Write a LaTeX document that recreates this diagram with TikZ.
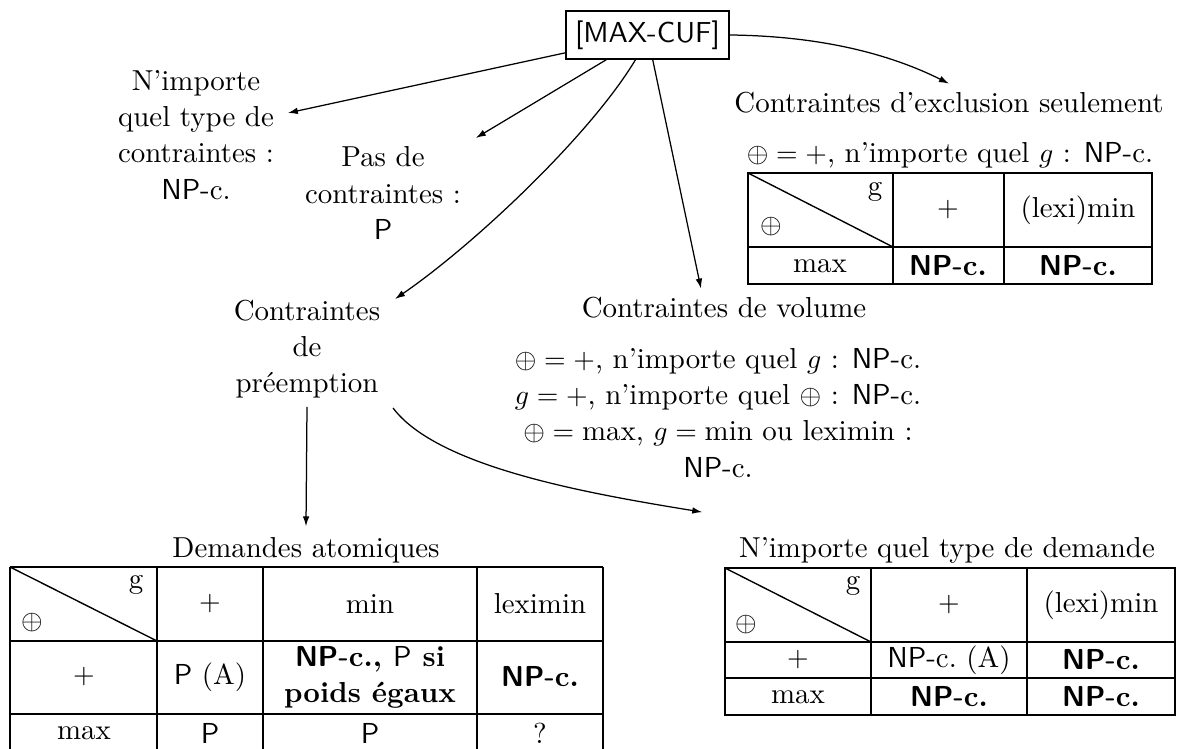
\documentclass[tikz,border=0pt]{standalone}
\usepackage{fontspec}
\usetikzlibrary{arrows.meta,calc}
\newcommand\npc{\textsf{NP-}c.}
\newcommand\npcb{\textbf{\textsf{NP-}c.}}
\begin{document}
\begin{tikzpicture}[x=0.36pt,y=-0.36pt,
  every node/.style={font=\fontsize{10.4}{13}\selectfont, inner sep=3pt},
  lbl/.style={align=center},
  rootbox/.style={draw, line width=0.5pt, font=\sffamily\fontsize{10.4}{12}\selectfont,
    inner sep=0pt, minimum width=58.7pt, minimum height=17.3pt},
  arr/.style={line width=0.45pt, -{Latex[length=3.6pt,width=2.4pt]}},
  grid/.style={line width=0.5pt},
  cell/.style={inner sep=0pt, align=center}]
\useasboundingbox (0,0) rectangle (1179,749);
\clip (0,0) rectangle (1179,749);

% ---- tree labels ----
\node[rootbox] (root) at (647.5,35) {[MAX-CUF]};
\node[lbl] (nimp) at (196,135) {N'importe\\quel type de\\contraintes :\\\npc};
\node[lbl] (pasde) at (383,193) {Pas de\\contraintes :\\\textsf{P}};
\node (excl) at (949,103) {Contraintes d'exclusion seulement};
\node (exclres) at (950,155) {$\oplus=+$, n'importe quel $g$ : \npc};
\node[lbl] (prem) at (307,349) {Contraintes\\de\\préemption};
\node (vol) at (724,308) {Contraintes de volume};
\node[lbl] (volres) at (718,413) {$\oplus=+$, n'importe quel $g$ : \npc\\
  $g=+$, n'importe quel $\oplus$ : \npc\\
  $\oplus=\max$, $g=\min$ ou leximin :\\\npc};
\node (atom) at (306,550) {Demandes atomiques};
\node (anydem) at (947,550) {N'importe quel type de demande};

% ---- connectors ----
\draw[arr] (root) -- ($(nimp.east)+(5,-22)$);
\draw[arr] (root) -- ($(pasde.north east)+(6,0)$);
\coordinate (c3a) at ($(root.south)+(-12,0)$);
\coordinate (c3b) at ($(prem.north east)+(6,8)$);
\draw[arr] (c3a) .. controls ($(c3a)+(-45,75)$) and ($(c3b)+(80,-55)$) .. (c3b);
\draw[arr] (root) -- ($(vol.north)+(-23,0)$);
\coordinate (c5a) at (root.east);
\coordinate (c5b) at (excl.north);
\draw[arr] (c5a) .. controls ($(c5a)+(90,1)$) and ($(c5b)+(-60,-30)$) .. (c5b);
\draw[arr] (prem.south) -- ($(atom.north)+(0,-2)$);
\coordinate (c6a) at ($(prem.south east)+(4,1)$);
\coordinate (c6b) at ($(anydem.north west)+(-28,-16)$);
\draw[arr] (c6a) .. controls ($(c6a)+(45,60)$) and ($(c6b)+(-110,-18)$) .. (c6b);

% ---- table: exclusion constraints ----
\draw[grid] (748,173) rectangle (1152,284);
\draw[grid] (893,173) -- (893,284) (1004,173) -- (1004,284) (748,247) -- (1152,247);
\draw[grid] (748,173) -- (893,247);
\node[cell] (ea1) at (875,192) {g};
\node[cell] (ea2) at (771,227) {$\oplus$};
\node[cell] (eb1) at (948,210) {$+$};
\node[cell] (ec1) at (1078,210) {(lexi)min};
\node[cell] (ea3) at (820,266) {max};
\node[cell] (eb3) at (948,266) {\npcb};
\node[cell] (ec3) at (1078,266) {\npcb};

% ---- table: atomic demands ----
\draw[grid] (10,567) -- (603,567) (10,641) -- (603,641) (10,714) -- (603,714) (10,752) -- (603,752);
\draw[grid] (10,567) -- (10,752) (157,567) -- (157,752) (263,567) -- (263,752)
  (477,567) -- (477,752) (603,567) -- (603,752);
\draw[grid] (10,567) -- (157,641);
\node[cell] (aa1) at (136,585) {g};
\node[cell] (aa2) at (32,623) {$\oplus$};
\node[cell] (ab1) at (210,604) {$+$};
\node[cell] (ac1) at (370,604) {min};
\node[cell] (ad1) at (540,604) {leximin};
\node[cell] (aa2r) at (84,677) {$+$};
\node[cell] (ab2) at (210,677) {\textsf{P} (A)};
\node[cell, font=\fontsize{10.4}{13}\selectfont\bfseries] (ac2) at (370,677) {\textsf{NP-}c., \textmd{\textsf{P}} si\\poids égaux};
\node[cell] (ad2) at (540,677) {\npcb};
\node[cell] (aa3) at (84,733) {max};
\node[cell] (ab3) at (210,733) {\textsf{P}};
\node[cell] (ac3) at (370,733) {\textsf{P}};
\node[cell] (ad3) at (540,733) {?};

% ---- table: any demand ----
\draw[grid] (725,568) rectangle (1175,715);
\draw[grid] (871,568) -- (871,715) (1027,568) -- (1027,715)
  (725,642) -- (1175,642) (725,678) -- (1175,678);
\draw[grid] (725,568) -- (871,642);
\node[cell] (da1) at (853,586) {g};
\node[cell] (da2) at (746,625) {$\oplus$};
\node[cell] (db1) at (949,605) {$+$};
\node[cell] (dc1) at (1101,605) {(lexi)min};
\node[cell] (da2r) at (798,660) {$+$};
\node[cell] (db2) at (949,660) {\npc\ (A)};
\node[cell] (dc2) at (1101,660) {\npcb};
\node[cell] (da3) at (798,697) {max};
\node[cell] (db3) at (949,697) {\npcb};
\node[cell] (dc3) at (1101,697) {\npcb};
\end{tikzpicture}
\end{document}
